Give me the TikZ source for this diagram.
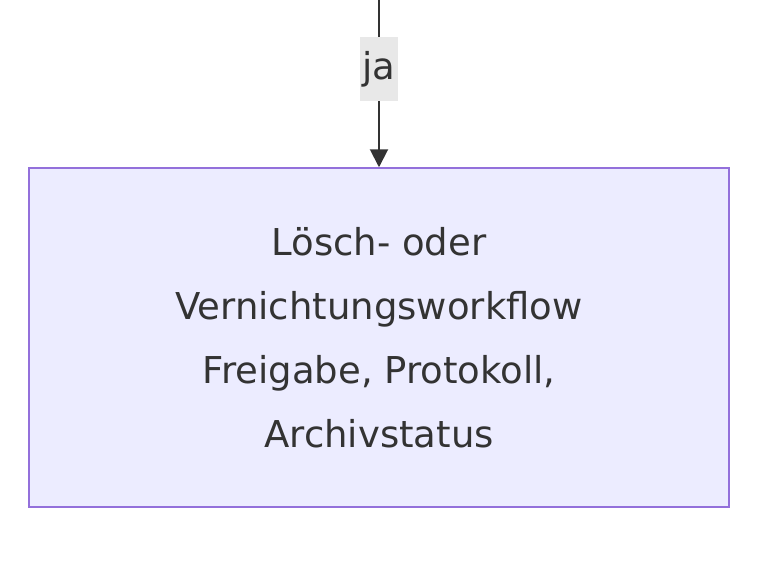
\documentclass[tikz,border=0pt]{standalone}
\usepackage{fontspec}
\setmainfont{DejaVu Sans}
\usetikzlibrary{arrows.meta}
\definecolor{boxfill}{HTML}{ECECFF}
\definecolor{boxline}{HTML}{9370DB}
\definecolor{edge}{HTML}{333333}
\definecolor{lblbg}{HTML}{E8E8E8}
\tikzset{
  procbox/.style={draw=boxline,fill=boxfill,line width=1.5pt,minimum width=700pt,minimum height=339pt,
    align=center,font=\fontsize{37}{64}\selectfont,text=edge},
  lbl/.style={fill=lblbg,inner sep=0pt,minimum width=38pt,minimum height=64pt,font=\fontsize{37}{40}\selectfont,text=edge},
  flow/.style={draw=edge,line width=2pt,-{Triangle[length=18pt,width=18pt]}}
}
\begin{document}
\begin{tikzpicture}[x=1pt,y=-1pt]
  \useasboundingbox (0,0) rectangle (769,587);
  \coordinate (top) at (379,0);
  \node[procbox] (loesch) at (379,337.5) {Lösch- oder\\Vernichtungsworkflow\\Freigabe, Protokoll,\\Archivstatus};
  \draw[flow] (top) -- (loesch.north);
  \node[lbl] (ja) at (379,69) {ja};
\end{tikzpicture}
\end{document}
